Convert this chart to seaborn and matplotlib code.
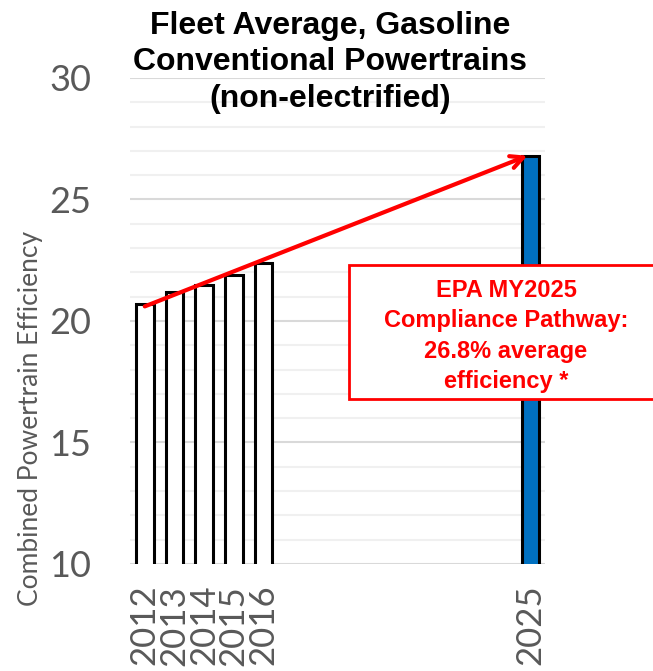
import numpy as np
import pandas as pd
import matplotlib
matplotlib.use("Agg")
import matplotlib.pyplot as plt
import matplotlib.patches as mpatches
from matplotlib.ticker import MultipleLocator
import seaborn as sns

# datos
years = [2012, 2013, 2014, 2015, 2016, 2025]
efficiency = [20.7, 21.2, 21.5, 21.9, 22.4, 26.8]
group = ["fleet", "fleet", "fleet", "fleet", "fleet", "epa"]
arrow_start = (2012, 20.6)
arrow_end = (2024.9, 26.8)

title = "Fleet Average, Gasoline\nConventional Powertrains\n(non-electrified)"
ylabel = "Combined Powertrain Efficiency"
box_text = "EPA MY2025\nCompliance Pathway:\n26.8% average\nefficiency *"

df = pd.DataFrame({"year": years, "eff": efficiency, "group": group})

sns.set_style("white")
plt.rcParams["font.family"] = ["Lato", "DejaVu Sans"]

fig = plt.figure(figsize=(6.53, 6.71), dpi=100)
ax = fig.add_axes([0.199, 0.1595, 0.636, 0.7243])

sns.barplot(data=df, x="year", y="eff", hue="group", native_scale=True,
            palette={"fleet": "white", "epa": "#0070C0"}, width=0.6, saturation=1,
            edgecolor="black", linewidth=2.2, legend=False, ax=ax, zorder=3)

ax.set_ylim(10, 30)
ax.set_xlim(2011.5, 2025.5)
ax.yaxis.set_major_locator(MultipleLocator(5))
ax.yaxis.set_minor_locator(MultipleLocator(1))
ax.grid(which="major", axis="y", color="#d9d9d9", lw=1.5, zorder=0)
ax.grid(which="minor", axis="y", color="#f0f0f0", lw=1.5, zorder=0)
ax.set_axisbelow(True)
for s in ax.spines.values():
    s.set_visible(False)

ax.set_xticks(years)
ax.set_xticklabels([str(y) for y in years], rotation=90, fontsize=25, color="#595959")
ax.tick_params(axis="x", length=0, pad=15)
ax.tick_params(axis="y", which="both", length=0, pad=28, labelsize=26, labelcolor="#595959")
ax.set_xlabel("")
ax.set_ylabel("")

fig.text(31 / 653, 1 - 418 / 671, ylabel, rotation=90, ha="center", va="center",
         fontsize=19, color="#595959")

fig.text(0.505, 1 - 11 / 671, title, ha="center", va="top", fontsize=23,
         fontweight="bold", color="black", family=["Liberation Sans", "DejaVu Sans"],
         linespacing=1.28)

ax.annotate("", xy=arrow_end, xytext=arrow_start,
            arrowprops=dict(arrowstyle="->,head_length=0.9,head_width=0.45",
                            color="red", lw=3, shrinkA=0, shrinkB=0), zorder=6)

rect = mpatches.Rectangle((349 / 653, 1 - 399 / 671), 0.6, 134 / 671,
                          transform=fig.transFigure, facecolor="white",
                          edgecolor="red", lw=2, clip_on=False, zorder=7)
ax.add_patch(rect)
ax.text(506 / 653, 1 - 336 / 671, box_text, transform=fig.transFigure,
        ha="center", va="center", fontsize=17, fontweight="bold", color="red",
        family=["Liberation Sans", "DejaVu Sans"], linespacing=1.4, zorder=8)

fig.savefig("out.png", dpi=100)
